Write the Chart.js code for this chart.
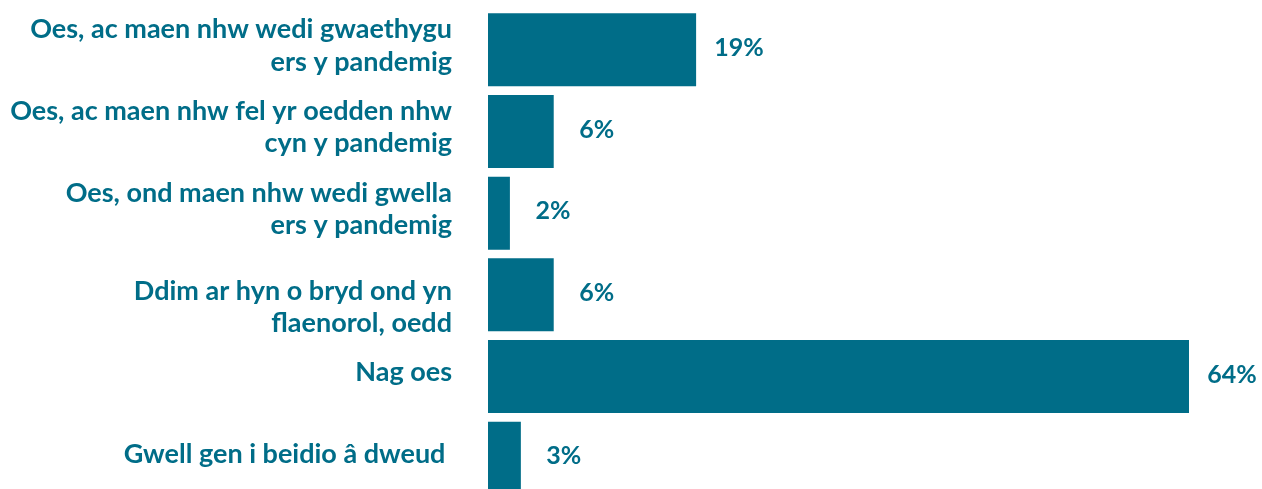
<!DOCTYPE html>
<html>
<head>
<meta charset="utf-8">
<script src="https://cdn.jsdelivr.net/npm/chart.js@4.4.1/dist/chart.umd.min.js"></script>
<style>
  html, body { margin: 0; padding: 0; background: #ffffff; overflow: hidden; }
  #wrap { position: relative; width: 1262px; height: 500px; }
</style>
</head>
<body>
<div id="wrap"><canvas id="c"></canvas></div>
<script>
const categories = [
  ["Oes, ac maen nhw wedi gwaethygu", "ers y pandemig"],
  ["Oes, ac maen nhw fel yr oedden nhw", "cyn y pandemig"],
  ["Oes, ond maen nhw wedi gwella", "ers y pandemig"],
  ["", "Ddim ar hyn o bryd ond yn", "flaenorol, oedd"],
  "Nag oes",
  "Gwell gen i beidio â dweud "
];
const values = [19, 6, 2, 6, 64, 3];
const valueLabels = ["19%", "6%", "2%", "6%", "64%", "3%"];

const TEAL = "#006D88";
const FONT = "Lato, 'Open Sans', sans-serif";

const valueLabelPlugin = {
  id: "valueLabels",
  afterDatasetsDraw(chart) {
    const ctx = chart.ctx;
    const meta = chart.getDatasetMeta(0);
    ctx.save();
    ctx.fillStyle = TEAL;
    ctx.font = "bold 25px " + FONT;
    ctx.textAlign = "center";
    ctx.textBaseline = "middle";
    meta.data.forEach((bar, i) => {
      ctx.fillText(valueLabels[i], bar.x + 43, bar.y - 2);
    });
    ctx.restore();
  }
};

new Chart(document.getElementById("c"), {
  type: "bar",
  data: {
    labels: categories,
    datasets: [{
      data: values,
      backgroundColor: TEAL,
      borderWidth: 0,
      barPercentage: 0.894,
      categoryPercentage: 1.0
    }]
  },
  options: {
    indexAxis: "y",
    responsive: true,
    maintainAspectRatio: false,
    animation: false,
    layout: { padding: { top: 9, bottom: 1, left: 0, right: 73 } },
    plugins: { legend: { display: false }, tooltip: { enabled: false } },
    scales: {
      x: { display: false, min: 0, max: 64 },
      y: {
        grid: { display: false },
        border: { display: false },
        afterFit(scale) {
          scale.width = 488;
          scale.paddingTop = 0;
          scale.paddingBottom = 0;
        },
        ticks: {
          color: TEAL,
          padding: 28,
          autoSkip: false,
          labelOffset: -4,
          font: { family: FONT, size: 27, weight: "bold", lineHeight: 1.19 }
        }
      }
    }
  },
  plugins: [valueLabelPlugin]
});
</script>
</body>
</html>
